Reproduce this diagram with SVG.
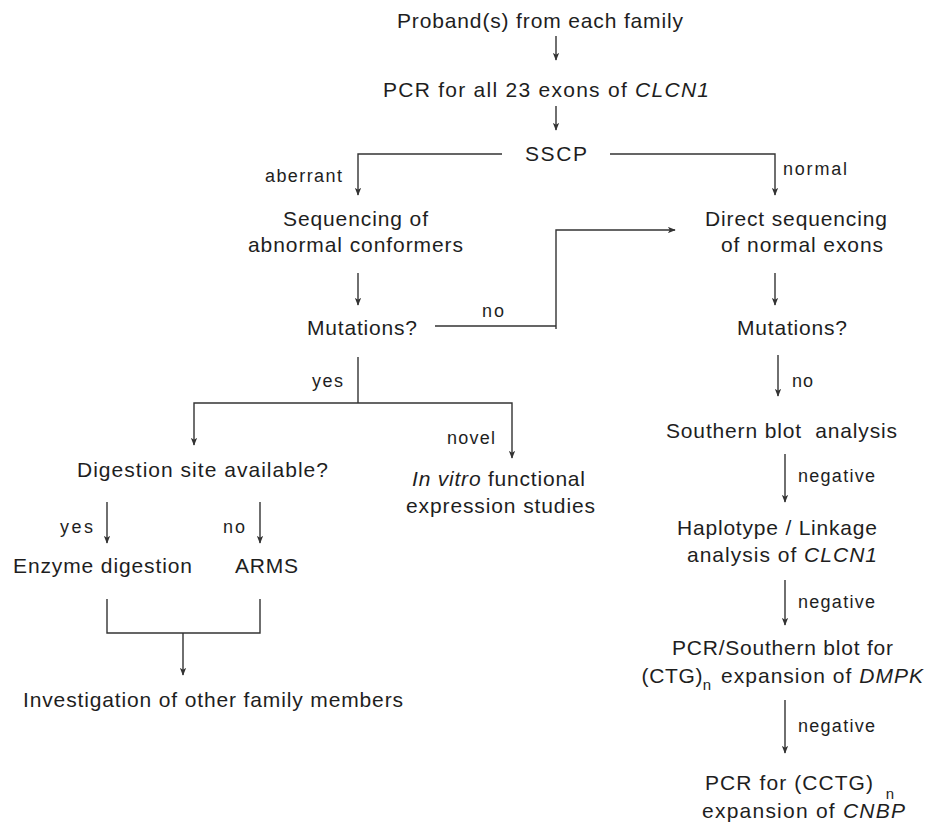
<svg xmlns="http://www.w3.org/2000/svg" width="930" height="827" viewBox="0 0 930 827">
<style>
text{font-family:"Liberation Sans",Arial,sans-serif;fill:#1e1e1e;text-anchor:middle}
.m{font-size:21px}
.l{font-size:18px}
.i{font-style:italic}
.c{fill:none;stroke:#333;stroke-width:1.4}
.a{marker-end:url(#ah)}
</style>
<defs>
<marker id="ah" viewBox="0 0 10 8" refX="9" refY="4" markerWidth="8" markerHeight="6.4" markerUnits="userSpaceOnUse" orient="auto">
<path d="M0,0 L10,4 L0,8 L2.5,4 z" fill="#333"/>
</marker>
</defs>
<rect width="930" height="827" fill="#fff"/>
<g id="connectors">
<path class="c a" d="M556,36 V60"/>
<path class="c a" d="M556,106 V130"/>
<path class="c a" d="M502,154 H358 V195"/>
<path class="c a" d="M610,154 H775 V195"/>
<path class="c a" d="M358,273 V305"/>
<path class="c a" d="M775,273 V305"/>
<path class="c" d="M435,326 H556 M556,329 V326"/>
<path class="c a" d="M556,326 V230 H675"/>
<path class="c" d="M358,357 V403"/>
<path class="c a" d="M358,403 H194 V445"/>
<path class="c a" d="M358,403 H512 V458"/>
<path class="c a" d="M107,502 V543"/>
<path class="c a" d="M260,502 V543"/>
<path class="c" d="M107,599 V633 H260 V599"/>
<path class="c a" d="M183,633 V675"/>
<path class="c a" d="M778,355 V396"/>
<path class="c a" d="M785,454 V502"/>
<path class="c a" d="M785,580 V625"/>
<path class="c a" d="M785,700 V753"/>
</g>
<g id="labels">
<text class="l" x="303.5" y="182" textLength="77">aberrant</text>
<text class="l" x="815" y="175" textLength="64">normal</text>
<text class="l" x="493" y="317" textLength="22">no</text>
<text class="l" x="327.5" y="387" textLength="31">yes</text>
<text class="l" x="802.5" y="387" textLength="21">no</text>
<text class="l" x="471" y="444" textLength="48">novel</text>
<text class="l" x="76.5" y="533" textLength="33">yes</text>
<text class="l" x="234" y="533" textLength="22">no</text>
<text class="l" x="836.5" y="482" textLength="77">negative</text>
<text class="l" x="836.5" y="608" textLength="77">negative</text>
<text class="l" x="836.5" y="732" textLength="77">negative</text>
</g>
<g id="n-proband"><text class="m" x="540" y="28" textLength="286">Proband(s) from each family</text></g>
<g id="n-pcr"><text class="m" x="546" y="97" textLength="326">PCR for all 23 exons of <tspan class="i">CLCN1</tspan></text></g>
<g id="n-sscp"><text class="m" x="556" y="161" textLength="62">SSCP</text></g>
<g id="n-seq-abn">
<text class="m" x="355.5" y="226" textLength="145">Sequencing of</text>
<text class="m" x="355.5" y="252" textLength="215">abnormal conformers</text>
</g>
<g id="n-direct">
<text class="m" x="796" y="226" textLength="182">Direct sequencing</text>
<text class="m" x="802" y="252" textLength="162">of normal exons</text>
</g>
<g id="n-mut-left"><text class="m" x="362" y="335" textLength="110">Mutations?</text></g>
<g id="n-mut-right"><text class="m" x="792" y="335" textLength="110">Mutations?</text></g>
<g id="n-digestion"><text class="m" x="202.5" y="477" textLength="251">Digestion site available?</text></g>
<g id="n-invitro">
<text class="m" x="498.5" y="486" textLength="173"><tspan class="i">In vitro</tspan> functional</text>
<text class="m" x="500.5" y="513" textLength="189">expression studies</text>
</g>
<g id="n-enzyme"><text class="m" x="102.5" y="573" textLength="179">Enzyme digestion</text></g>
<g id="n-arms"><text class="m" x="266.5" y="573" textLength="63">ARMS</text></g>
<g id="n-investigation"><text class="m" x="213" y="707" textLength="380">Investigation of other family members</text></g>
<g id="n-southern"><text class="m" x="781.5" y="438" textLength="231" xml:space="preserve">Southern blot  analysis</text></g>
<g id="n-haplotype">
<text class="m" x="777" y="535" textLength="200">Haplotype / Linkage</text>
<text class="m" x="782" y="562" textLength="190">analysis of <tspan class="i">CLCN1</tspan></text>
</g>
<g id="n-dmpk">
<text class="m" x="672" y="655" style="text-anchor:start" textLength="221">PCR/Southern blot for</text>
<text class="m" x="672" y="683" textLength="61">(CTG)</text>
<text style="font-size:15px" x="707" y="690">n</text>
<text class="m" x="822" y="683" textLength="202">expansion of <tspan class="i">DMPK</tspan></text>
</g>
<g id="n-cnbp">
<text class="m" x="789" y="790" textLength="168">PCR for (CCTG)</text>
<text style="font-size:15px" x="890" y="799">n</text>
<text class="m" x="803.5" y="818" textLength="203">expansion of <tspan class="i">CNBP</tspan></text>
</g>
</svg>
